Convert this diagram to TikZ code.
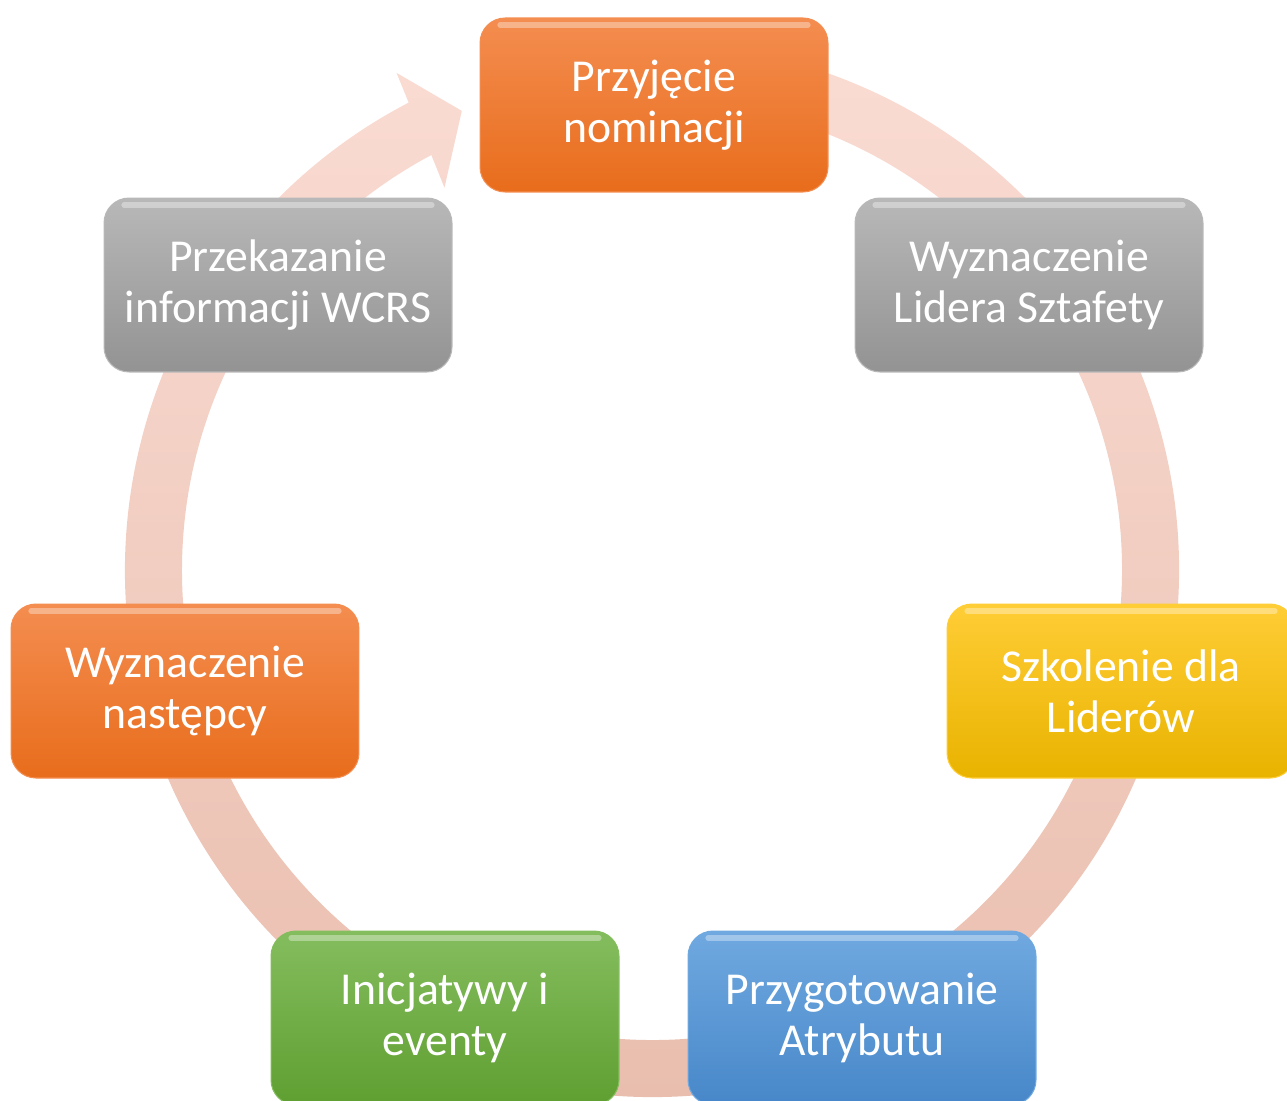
\documentclass[tikz,border=0pt]{standalone}
\usepackage{fontspec}
\setmainfont{Carlito}
\definecolor{ringT}{HTML}{FADCD3}
\definecolor{ringM}{HTML}{F7D4C9}
\definecolor{ringB}{HTML}{E8BCAC}
\definecolor{orgT}{HTML}{F48D50}
\definecolor{orgB}{HTML}{E86D1C}
\definecolor{gryT}{HTML}{B8B8B8}
\definecolor{gryB}{HTML}{939393}
\definecolor{yelT}{HTML}{FFCD36}
\definecolor{yelB}{HTML}{E9B300}
\definecolor{bluT}{HTML}{70A9E0}
\definecolor{bluB}{HTML}{4787C9}
\definecolor{grnT}{HTML}{84BD5E}
\definecolor{grnB}{HTML}{5F9F31}
\begin{document}
\begin{tikzpicture}[x=0.02cm,y=0.02cm,
  etap/.style={rounded corners=0.5cm,minimum width=6.96cm,minimum height=3.48cm,
    align=center,text=white,font=\fontsize{26}{29}\selectfont,line width=0.6pt,
    path picture={\draw[white,opacity=.35,line width=3pt,line cap=round]
      ([shift={(0.4cm,-0.14cm)}]path picture bounding box.north west) --
      ([shift={(-0.4cm,-0.14cm)}]path picture bounding box.north east);}},
  pomarancz/.style={top color=orgT,bottom color=orgB,draw=orgT},
  szary/.style={top color=gryT,bottom color=gryB,draw=gryT},
  zolty/.style={top color=yelT,bottom color=yelB,draw=yelT},
  niebieski/.style={top color=bluT,bottom color=bluB,draw=bluT},
  zielony/.style={top color=grnT,bottom color=grnB,draw=grnT}]
\useasboundingbox (0,0) rectangle (1287,-1100);
% circular arrow
\begin{scope}[shift={(652,-570)}]
\shade[top color=ringT,middle color=ringM,bottom color=ringB]
  (117.5:527) arc[start angle=117.5,end angle=445,radius=527] -- (445:470)
  arc[start angle=445,end angle=118,radius=470] -- (118.5:435) -- (112.5:497)
  -- (117.2:559) -- cycle;
\end{scope}
% steps
\node[etap,pomarancz] (przyjecie) at (654,-105) {Przyjęcie\\nominacji};
\node[etap,szary] (lider) at (1029,-285) {Wyznaczenie\\Lidera Sztafety};
\node[etap,zolty] (szkolenie) at (1121,-691) {Szkolenie dla\\Liderów};
\node[etap,niebieski] (atrybut) at (862,-1018) {Przygotowanie\\Atrybutu};
\node[etap,zielony] (inicjatywy) at (445,-1018) {Inicjatywy i\\eventy};
\node[etap,pomarancz] (nastepca) at (185,-691) {Wyznaczenie\\następcy};
\node[etap,szary] (wcrs) at (278,-285) {Przekazanie\\informacji WCRS};
\end{tikzpicture}
\end{document}
